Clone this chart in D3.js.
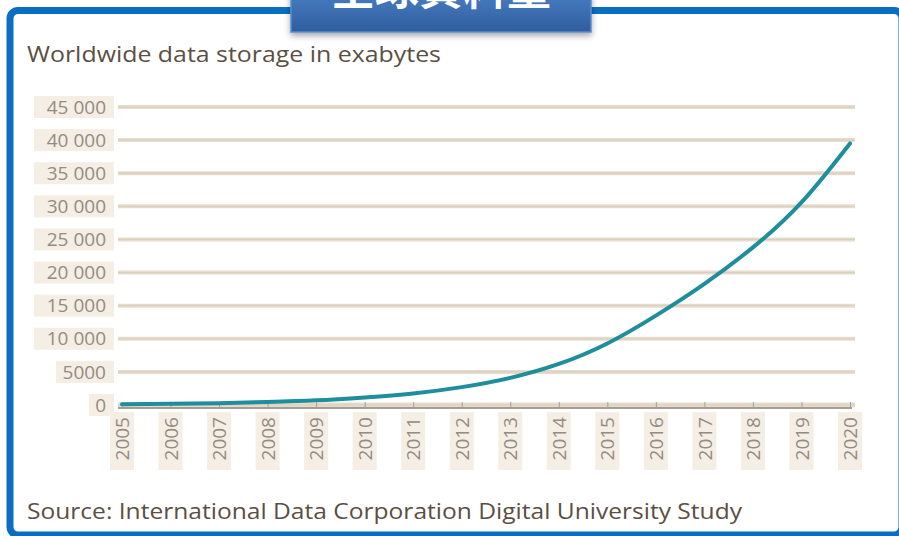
<!DOCTYPE html>
<html>
<head>
<meta charset="utf-8">
<script src="https://cdn.jsdelivr.net/npm/d3@7"></script>
<style>
  body { margin: 0; background: #fff; }
  svg { display: block; }
  text { font-family: "Open Sans", "Noto Sans", sans-serif; }
</style>
</head>
<body>
<script>
// data
const years = [2005, 2006, 2007, 2008, 2009, 2010, 2011, 2012, 2013, 2014, 2015, 2016, 2017, 2018, 2019, 2020];
const exabytes = [130, 180, 280, 450, 700, 1150, 1750, 2700, 4100, 6200, 9300, 13500, 18300, 23800, 30600, 39500];
const yTicks = [0, 5000, 10000, 15000, 20000, 25000, 30000, 35000, 40000, 45000];
const yTickLabels = ["0", "5000", "10 000", "15 000", "20 000", "25 000", "30 000", "35 000", "40 000", "45 000"];
const banner = "全球資料量";
const chartTitle = "Worldwide data storage in exabytes";
const sourceNote = "Source: International Data Corporation Digital University Study";

const width = 899, height = 536;
const beige = "#f4eee5";
const gridCol = "#e6dccd";
const labelCol = "#948b83";

const svg = d3.select("body").append("svg")
  .attr("width", width)
  .attr("height", height);

const defs = svg.append("defs");
const grad = defs.append("linearGradient").attr("id", "bannerGrad")
  .attr("x1", 0).attr("x2", 0).attr("y1", 0).attr("y2", 1);
grad.append("stop").attr("offset", "0%").attr("stop-color", "#4a7fc4");
grad.append("stop").attr("offset", "100%").attr("stop-color", "#2f5d9f");
const shadow = defs.append("filter").attr("id", "shadow")
  .attr("x", "-10%").attr("y", "-10%").attr("width", "120%").attr("height", "140%");
shadow.append("feDropShadow").attr("dx", 0).attr("dy", 3).attr("stdDeviation", 3)
  .attr("flood-color", "#000").attr("flood-opacity", 0.35);

// outer frame
svg.append("rect")
  .attr("x", 10).attr("y", 10.5)
  .attr("width", 892).attr("height", 524.5)
  .attr("rx", 8)
  .attr("fill", "#fff")
  .attr("stroke", "#0a6fc2")
  .attr("stroke-width", 7);

// banner at the top (cut off by the page edge, as in the original)
svg.append("rect")
  .attr("x", 291).attr("y", -10)
  .attr("width", 300).attr("height", 42)
  .attr("fill", "url(#bannerGrad)")
  .attr("stroke", "#5b8dd0")
  .attr("stroke-width", 1.5)
  .attr("filter", "url(#shadow)");
svg.append("text")
  .attr("x", 441).attr("y", 5)
  .attr("text-anchor", "middle")
  .attr("fill", "#fff")
  .attr("font-size", 44)
  .attr("font-weight", "bold")
  .style("font-family", "'Noto Sans CJK TC', sans-serif")
  .text(banner);

svg.append("text")
  .attr("x", 27).attr("y", 62)
  .attr("fill", "#5b4f45")
  .attr("font-size", 22)
  .attr("textLength", 414)
  .attr("lengthAdjust", "spacingAndGlyphs")
  .text(chartTitle);

svg.append("text")
  .attr("x", 27).attr("y", 519)
  .attr("fill", "#5b4f45")
  .attr("font-size", 22)
  .attr("textLength", 715)
  .attr("lengthAdjust", "spacingAndGlyphs")
  .text(sourceNote);

// scales
const x = d3.scaleLinear()
  .domain([2005, 2020])
  .range([122, 850]);
const y = d3.scaleLinear()
  .domain([0, 45000])
  .range([405, 107]);

// y grid + labels
const yAxisG = svg.append("g");
yTicks.forEach((t, i) => {
  const yy = y(t);
  const g = yAxisG.append("g");
  const lbl = yTickLabels[i];
  const bw = lbl.length * 11 + 14;
  g.append("rect")
    .attr("x", 114 - bw).attr("y", yy - 11)
    .attr("width", bw).attr("height", 22)
    .attr("fill", beige);
  g.append("line")
    .attr("x1", 118).attr("x2", 855)
    .attr("y1", yy).attr("y2", yy)
    .attr("stroke", gridCol)
    .attr("stroke-width", t === 0 ? 5 : 4);
  g.append("line")
    .attr("x1", 118).attr("x2", 855)
    .attr("y1", yy).attr("y2", yy)
    .attr("stroke", "#d9cebd")
    .attr("stroke-width", 1);
  g.append("text")
    .attr("x", 106).attr("y", yy)
    .attr("dy", "0.35em")
    .attr("text-anchor", "end")
    .attr("fill", labelCol)
    .attr("font-size", 19)
    .text(lbl);
});

// x axis
const xAxisG = svg.append("g");
years.forEach(yr => {
  const xx = x(yr);
  xAxisG.append("rect")
    .attr("x", xx - 12).attr("y", 412)
    .attr("width", 24).attr("height", 58)
    .attr("fill", beige);
});
const xAxis = d3.axisBottom(x)
  .tickValues(years)
  .tickFormat(d3.format("d"))
  .tickSize(-6)
  .tickPadding(8);
const xg = xAxisG.append("g")
  .attr("transform", "translate(0,408)")
  .call(xAxis);
xg.select(".domain")
  .attr("d", "M118,0H852")
  .attr("stroke", "#8a8078")
  .attr("stroke-width", 1.5);
xg.selectAll(".tick line").attr("stroke", "#a89e94");
xg.selectAll(".tick text")
  .attr("fill", labelCol)
  .attr("font-size", 19)
  .attr("text-anchor", "end")
  .attr("transform", "rotate(-90)")
  .attr("x", -9)
  .attr("y", 0)
  .attr("dy", "0.35em");

// the curve
const line = d3.line()
  .x((d, i) => x(years[i]))
  .y(d => y(d))
  .curve(d3.curveNatural);
svg.append("path")
  .datum(exabytes)
  .attr("d", line)
  .attr("fill", "none")
  .attr("stroke", "#1e8d9c")
  .attr("stroke-width", 4)
  .attr("stroke-linecap", "round");
</script>
</body>
</html>
